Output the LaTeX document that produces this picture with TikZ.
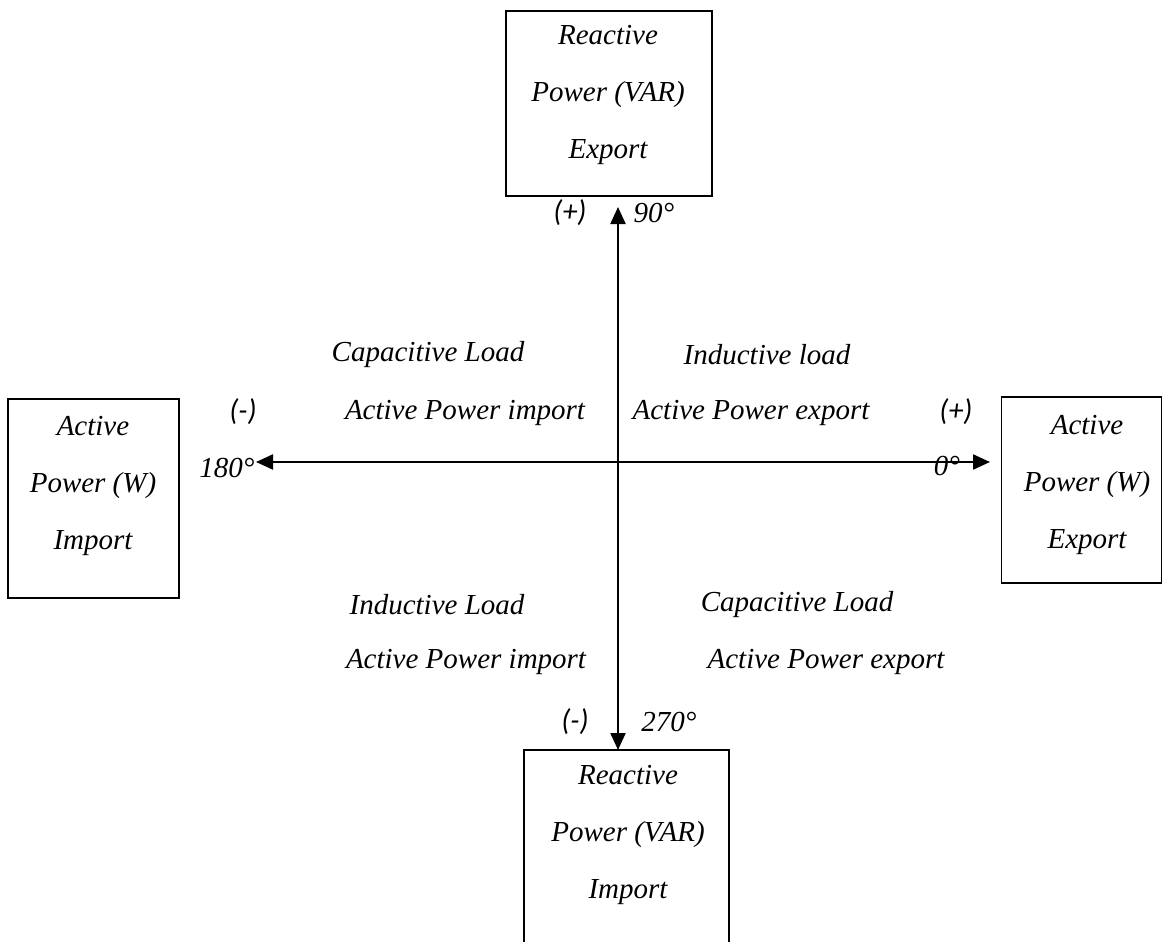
\documentclass[tikz,border=0pt]{standalone}
\usepackage{fontspec}
\setmainfont{Liberation Serif}
\newfontfamily\signfont{Carlito}
\usetikzlibrary{arrows.meta}
\begin{document}
\begin{tikzpicture}[x=1pt,y=-1pt,
  box/.style={draw,line width=1.6pt,inner sep=0pt},
  boxtext/.style={align=center,inner sep=0pt,font=\fontsize{29}{57}\selectfont\itshape},
  lbl/.style={inner sep=0pt,font=\fontsize{29}{34}\selectfont\itshape},
  sign/.style={inner sep=0pt,font=\fontsize{30}{34}\selectfont\signfont\itshape},
  axis/.style={line width=2.2pt,{Triangle[length=17pt,width=15pt]}-{Triangle[length=17pt,width=15pt]}}]
\useasboundingbox (0,0) rectangle (1163,942);

% outer boxes
\node[box,minimum width=206,minimum height=185] (topbox) at (609,103.5) {};
\node[box,minimum width=171,minimum height=199] (leftbox) at (93.5,498.5) {};
\node[box,minimum width=160,minimum height=186] (rightbox) at (1081.5,490) {};
\node[box,minimum width=205,minimum height=220] (botbox) at (626.5,860) {};

\node[boxtext] (toptext) at (608,95) {Reactive\\Power (VAR)\\Export};
\node[boxtext] (lefttext) at (93,486) {Active\\Power (W)\\Import};
\node[boxtext] (righttext) at (1087,484.5) {Active\\Power (W)\\Export};
\node[boxtext] (bottext) at (628,835) {Reactive\\Power (VAR)\\Import};

% axes
\coordinate (north) at (618,207);
\coordinate (south) at (618,750);
\coordinate (west) at (256,462);
\coordinate (east) at (990,462);
\draw[axis] (south) -- (north);
\draw[axis] (west) -- (east);

% axis labels
\node[sign] (nsign) at (570,213) {(+)};
\node[lbl] (nang) at (654,213) {90°};
\node[sign] (ssign) at (575,722) {(-)};
\node[lbl] (sang) at (669,722) {270°};
\node[sign] (wsign) at (243,412) {(-)};
\node[lbl] (wang) at (227,468) {180°};
\node[sign] (esign) at (956,412) {(+)};
\node[lbl] (eang) at (947,466) {0°};

% quadrant labels
\node[lbl] (q2a) at (428,355) {Capacitive Load};
\node[lbl] (q2b) at (465,413) {Active Power import};
\node[lbl] (q1a) at (767,355) {Inductive load};
\node[lbl] (q1b) at (751,413) {Active Power export};
\node[lbl] (q3a) at (437,605) {Inductive Load};
\node[lbl] (q3b) at (466,662) {Active Power import};
\node[lbl] (q4a) at (797,605) {Capacitive Load};
\node[lbl] (q4b) at (826,662) {Active Power export};
\end{tikzpicture}
\end{document}
